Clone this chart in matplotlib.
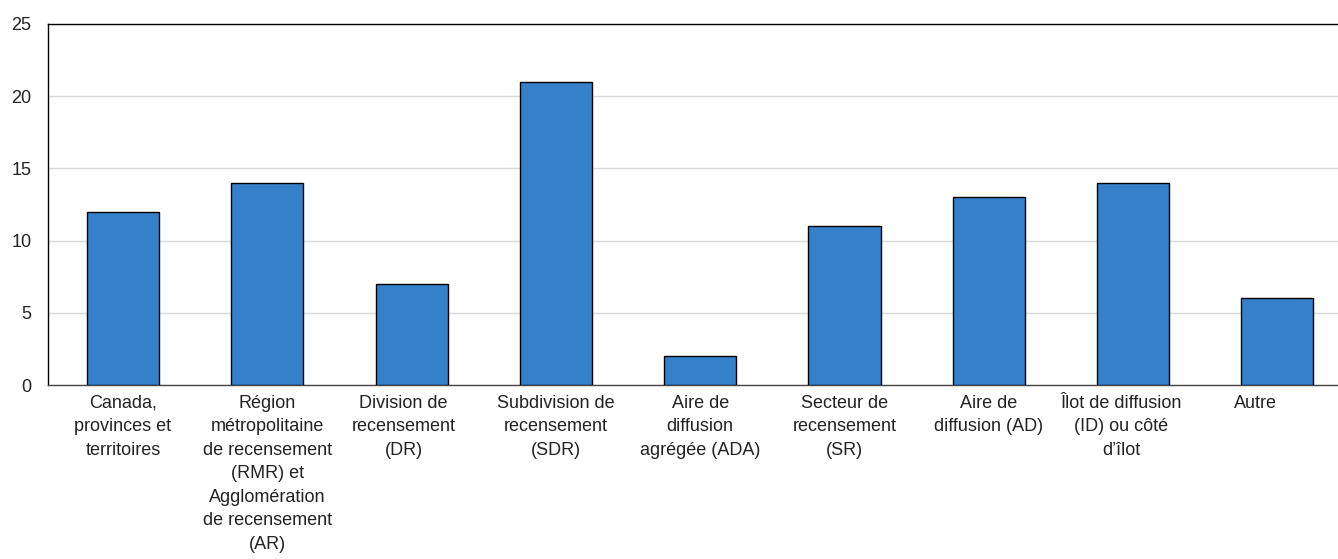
import matplotlib
matplotlib.use('Agg')
import matplotlib.pyplot as plt
import matplotlib.transforms as mtransforms
from matplotlib import font_manager

names = {f.name for f in font_manager.fontManager.ttflist}
main_font = 'Liberation Sans Narrow' if 'Liberation Sans Narrow' in names else 'Liberation Sans'
plt.rcParams['font.family'] = [main_font, 'DejaVu Sans']

categories = [
    'Canada,\nprovinces et\nterritoires',
    'Région\nmétropolitaine\nde recensement\n(RMR) et\nAgglomération\nde recensement\n(AR)',
    'Division de\nrecensement\n(DR)',
    'Subdivision de\nrecensement\n(SDR)',
    'Aire de\ndiffusion\nagrégée (ADA)',
    'Secteur de\nrecensement\n(SR)',
    'Aire de\ndiffusion (AD)',
    'Îlot de diffusion\n(ID) ou côté\nd\u2019îlot',
    'Autre',
]
values = [12, 14, 7, 21, 2, 11, 13, 14, 6]
yticks = [0, 5, 10, 15, 20, 25]

fs = 13 if main_font == 'Liberation Sans' else 14.5

fig = plt.figure(figsize=(13.38, 5.59), dpi=100)
ax = fig.add_axes([48 / 1338, 1 - 385 / 559, (1338 - 48) / 1338, (385 - 24) / 559])

x = list(range(len(values)))
ax.bar(x, values, width=0.5, color='#3580cb', edgecolor='black', linewidth=1, zorder=3)

ax.set_xlim(-0.52, 8.42)
ax.set_ylim(0, 25)
ax.set_yticks(yticks)
ax.set_xticks(x)
ax.set_xticklabels(categories, fontsize=fs, linespacing=1.5, va='top')
ax.tick_params(axis='both', length=0, labelsize=fs, colors='#222222')
ax.tick_params(axis='y', pad=12)
ax.tick_params(axis='x', pad=7)

# small horizontal shifts of some labels, as in the original
shifts = {2: -8, 7: -12, 8: -22}
for i, lab in enumerate(ax.get_xticklabels()):
    if i in shifts:
        lab.set_transform(lab.get_transform() + mtransforms.ScaledTranslation(shifts[i] / 100, 0, fig.dpi_scale_trans))

ax.grid(axis='y', color='#d9d9d9', linewidth=1, zorder=0)
ax.spines['right'].set_visible(False)
ax.spines['top'].set_color('black')
ax.spines['left'].set_color('black')
ax.spines['bottom'].set_color('#444444')
for s in ['top', 'left', 'bottom']:
    ax.spines[s].set_linewidth(1)

fig.savefig('out.png', dpi=100)
